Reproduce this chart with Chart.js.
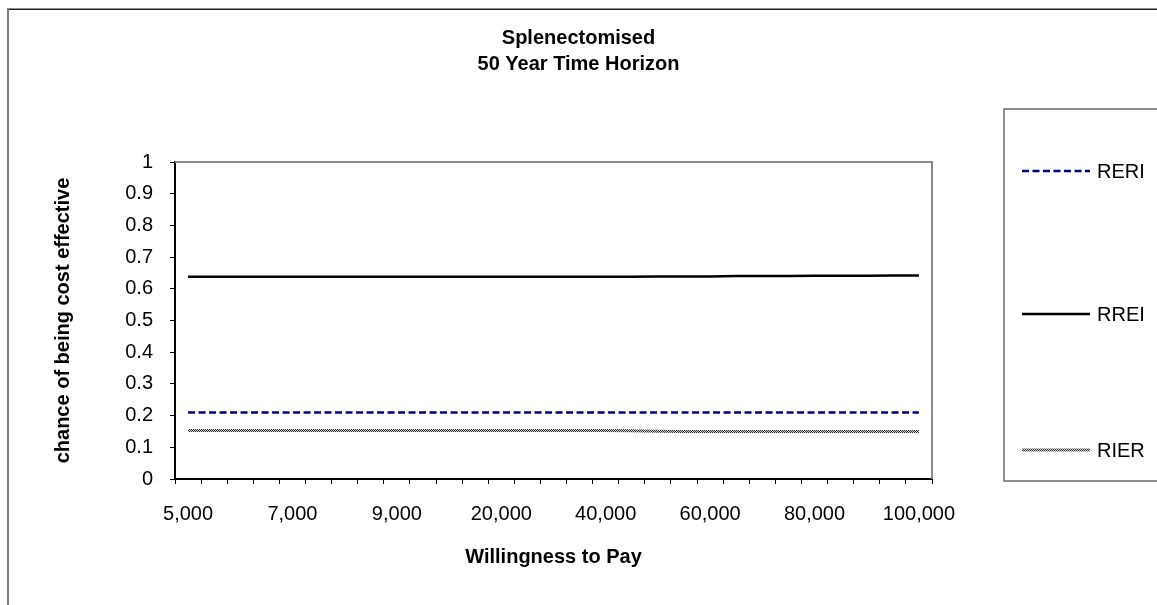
<!DOCTYPE html>
<html>
<head>
<meta charset="utf-8">
<script src="https://cdn.jsdelivr.net/npm/chart.js@4/dist/chart.umd.min.js"></script>
<style>
  html, body { margin: 0; padding: 0; background: #fff; }
  #wrap { position: relative; width: 1157px; height: 605px; }
  canvas { display: block; }
</style>
</head>
<body>
<div id="wrap"><canvas id="ceac" width="1157" height="605"></canvas></div>
<script>
// Willingness-to-pay thresholds (category axis)
const wtp = ['5,000','5,500','6,000','6,500','7,000','7,500','8,000','8,500','9,000','9,500',
             '10,000','15,000','20,000','25,000','30,000','35,000','40,000','45,000','50,000',
             '55,000','60,000','65,000','70,000','75,000','80,000','85,000','90,000','95,000','100,000'];

// Probability of each strategy being cost effective
const reri = [0.210,0.210,0.210,0.210,0.210,0.210,0.210,0.210,0.210,0.210,
              0.210,0.210,0.210,0.210,0.210,0.210,0.210,0.210,0.210,
              0.210,0.210,0.210,0.210,0.210,0.210,0.210,0.210,0.210,0.210];
const rrei = [0.638,0.638,0.638,0.638,0.638,0.638,0.638,0.638,0.638,0.638,
              0.638,0.638,0.638,0.638,0.638,0.638,0.638,0.638,0.639,
              0.639,0.639,0.640,0.640,0.640,0.641,0.641,0.641,0.642,0.642];
const rier = [0.153,0.153,0.153,0.153,0.153,0.153,0.153,0.153,0.153,0.153,
              0.153,0.153,0.153,0.153,0.153,0.153,0.153,0.152,0.151,
              0.150,0.150,0.150,0.150,0.150,0.150,0.150,0.150,0.150,0.150];

const yTicks = [0,0.1,0.2,0.3,0.4,0.5,0.6,0.7,0.8,0.9,1];

const FONT = "'Liberation Sans', Arial, sans-serif";

// fine checkered stroke for the RIER line
function hatchPattern() {
  const c = document.createElement('canvas');
  c.width = 2; c.height = 2;
  const g = c.getContext('2d');
  g.fillStyle = '#d4d4d4'; g.fillRect(0, 0, 2, 2);
  g.fillStyle = '#2a2a2a'; g.fillRect(0, 0, 1, 1); g.fillRect(1, 1, 1, 1);
  return g.createPattern(c, 'repeat');
}

// outer chart frame, plot-area frame and the side legend
const framePlugin = {
  id: 'frame',
  beforeDraw(chart) {
    const ctx = chart.ctx;
    ctx.save();
    ctx.fillStyle = '#fff';
    ctx.fillRect(0, 0, chart.width, chart.height);
    ctx.strokeStyle = '#222';
    ctx.lineWidth = 1.5;
    ctx.beginPath(); ctx.moveTo(7, 9.25); ctx.lineTo(chart.width, 9.25); ctx.stroke();
    ctx.strokeStyle = '#7a7a7a';
    ctx.lineWidth = 2;
    ctx.beginPath(); ctx.moveTo(8, 9); ctx.lineTo(8, chart.height); ctx.stroke();
    ctx.restore();
  },
  afterDatasetsDraw(chart) {
    const {ctx, chartArea: a} = chart;
    ctx.save();
    ctx.strokeStyle = '#8a8a8a';
    ctx.lineWidth = 2;
    ctx.beginPath();
    ctx.moveTo(a.left, a.top);
    ctx.lineTo(a.right, a.top);
    ctx.lineTo(a.right, a.bottom);
    ctx.stroke();
    ctx.restore();
  }
};

const sideLegend = {
  id: 'sideLegend',
  afterDraw(chart, args, opts) {
    const ctx = chart.ctx;
    ctx.save();
    ctx.strokeStyle = '#6a6a6a';
    ctx.lineWidth = 1.5;
    ctx.strokeRect(opts.left, opts.top, chart.width - opts.left + 5, opts.bottom - opts.top);
    ctx.font = '20px ' + FONT;
    ctx.textBaseline = 'middle';
    ctx.textAlign = 'left';
    chart.data.datasets.forEach((ds, i) => {
      const y = opts.rows[i];
      ctx.save();
      ctx.strokeStyle = ds.borderColor;
      ctx.lineWidth = ds.borderWidth;
      ctx.setLineDash(ds.borderDash || []);
      ctx.beginPath();
      ctx.moveTo(opts.lineX0, y);
      ctx.lineTo(opts.lineX1, y);
      ctx.stroke();
      ctx.restore();
      ctx.fillStyle = '#000';
      ctx.fillText(ds.label, opts.textX, y + 1);
    });
    ctx.restore();
  }
};

new Chart(document.getElementById('ceac'), {
  type: 'line',
  data: {
    labels: wtp,
    datasets: [
      { label: 'RERI', data: reri, borderColor: '#000080', borderWidth: 2.5, borderDash: [7, 3.5] },
      { label: 'RREI', data: rrei, borderColor: '#000000', borderWidth: 2.5 },
      { label: 'RIER', data: rier, borderColor: hatchPattern(), borderWidth: 3 }
    ]
  },
  options: {
    responsive: false,
    animation: false,
    layout: { padding: 0 },
    elements: {
      point: { radius: 0 },
      line: { tension: 0, fill: false, borderCapStyle: 'butt' }
    },
    plugins: {
      legend: { display: false },
      tooltip: { enabled: false },
      title: {
        display: true,
        text: ['Splenectomised', '50 Year Time Horizon'],
        color: '#000',
        font: { family: FONT, size: 20, weight: 'bold', lineHeight: 1.3 },
        padding: { top: 25, bottom: 85 }
      },
      sideLegend: {
        left: 1004, top: 109, bottom: 481,
        lineX0: 1022, lineX1: 1090, textX: 1097,
        rows: [171, 314, 450]
      }
    },
    scales: {
      x: {
        type: 'category',
        offset: true,
        afterFit: s => { s.height = 126; },
        grid: { offset: true, drawOnChartArea: false, drawTicks: true, tickLength: 5, color: '#000', lineWidth: 1 },
        border: { display: true, color: '#000', width: 2 },
        ticks: {
          autoSkip: false, maxRotation: 0, minRotation: 0,
          padding: 18, color: '#000',
          font: { family: FONT, size: 20 },
          callback: (v, i) => (i % 4 === 0 ? wtp[i] : '')
        },
        title: {
          display: true, text: 'Willingness to Pay', color: '#000',
          font: { family: FONT, size: 20, weight: 'bold', lineHeight: 1.2 },
          padding: { top: 0, bottom: 36 }
        }
      },
      y: {
        min: 0, max: 1,
        afterFit: s => { s.width = 175; },
        afterBuildTicks: s => { s.ticks = yTicks.map(v => ({ value: v })); },
        grid: { drawOnChartArea: false, drawTicks: true, tickLength: 5, color: '#000', lineWidth: 1 },
        border: { display: true, color: '#000', width: 2 },
        ticks: {
          padding: 17, color: '#000',
          font: { family: FONT, size: 20 },
          callback: v => String(Math.round(v * 10) / 10)
        },
        title: {
          display: true, text: 'chance of being cost effective', color: '#000',
          font: { family: FONT, size: 20, weight: 'bold', lineHeight: 1.2 },
          padding: { top: 51, bottom: 0 }
        }
      },
      legendSpace: {
        type: 'linear', position: 'right', display: true,
        afterFit: s => { s.width = 225; },
        grid: { display: false },
        border: { display: false },
        ticks: { display: false }
      }
    }
  },
  plugins: [framePlugin, sideLegend]
});
</script>
</body>
</html>
